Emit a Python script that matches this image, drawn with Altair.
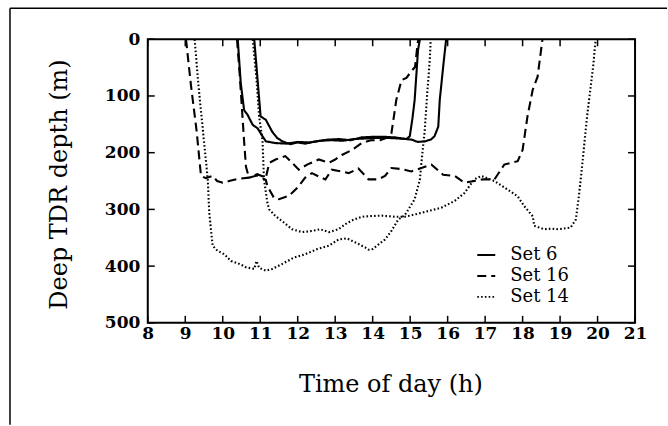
import altair as alt
import pandas as pd

# ---- data (hour of day, depth in m) ----
set6_a_hour = [10.40, 10.48, 10.57, 10.66, 10.80, 10.93, 11.06, 11.15, 11.4, 11.7, 12.0, 12.3, 12.6, 12.9,
               13.2, 13.5, 13.8, 14.1, 14.4, 14.7, 14.9, 14.99, 15.06, 15.12, 15.21, 15.26]
set6_a_depth = [0, 77, 125, 133, 151, 157, 171, 180, 183, 184, 181, 182, 179, 178,
                179, 176, 175, 174, 174, 175, 176, 171, 140, 107, 19, 0]

set6_b_hour = [10.84, 10.93, 11.01, 11.15, 11.32, 11.45, 11.59, 11.8, 12.0, 12.2, 12.5, 12.8, 13.1, 13.4,
               13.7, 14.0, 14.3, 14.6, 14.9, 15.04, 15.2, 15.39, 15.55, 15.65, 15.75, 15.79, 15.88, 15.96]
set6_b_depth = [0, 72, 136, 142, 163, 174, 180, 185, 182, 184, 180, 177, 176, 178,
                173, 172, 172, 173, 176, 177, 181, 180, 177, 171, 154, 107, 49, 0]

set16_a_hour = [9.02, 9.15, 9.3, 9.42, 9.55, 9.73, 9.85, 10.0, 10.17, 10.4, 10.7, 10.92, 11.15, 11.24,
                11.41, 11.67, 11.85, 12.03, 12.25, 12.56, 12.83, 13.0, 13.18, 13.45, 13.71, 13.95, 14.2,
                14.45, 14.5, 14.63, 14.77, 14.9, 15.05, 15.13, 15.2, 15.22]
set16_a_depth = [0, 80, 160, 241, 245, 241, 250, 253, 250, 246, 244, 238, 244, 218,
                 212, 206, 218, 230, 221, 212, 218, 212, 204, 195, 183, 178, 178,
                 172, 166, 107, 72, 68, 55, 49, 7, 0]

set16_b_hour = [10.38, 10.45, 10.52, 10.57, 10.62, 10.7, 10.92, 11.15, 11.19, 11.37, 11.5, 11.77, 11.99,
                12.2, 12.38, 12.56, 12.74, 12.91, 13.17, 13.36, 13.62, 13.89, 14.15, 14.33, 14.5, 14.77,
                15.03, 15.3, 15.57, 15.88, 16.19, 16.45, 16.71, 16.94, 17.25, 17.51, 17.87, 18.0, 18.13,
                18.27, 18.4, 18.53]
set16_b_depth = [0, 60, 130, 180, 225, 244, 240, 248, 259, 280, 282, 276, 262,
                 244, 236, 242, 247, 230, 233, 236, 228, 247, 247, 241, 227, 229,
                 233, 227, 221, 239, 241, 253, 250, 247, 247, 221, 215, 195, 136,
                 89, 66, 0]

set14_a_hour = [9.25, 9.35, 9.47, 9.6, 9.64, 9.73, 9.86, 10.04, 10.22, 10.44, 10.62, 10.84, 10.9, 10.97,
                11.15, 11.32, 11.59, 11.9, 12.2, 12.52, 12.83, 13.09, 13.31, 13.53, 13.8, 13.89, 14.0,
                14.15, 14.33, 14.5, 14.68, 14.86, 15.12, 15.26, 15.3, 15.39, 15.45, 15.52, 15.55]
set14_a_depth = [0, 80, 160, 247, 306, 364, 373, 379, 391, 396, 402, 405, 391, 403,
                 408, 405, 396, 385, 379, 370, 364, 353, 351, 358, 367, 371, 370,
                 362, 353, 338, 318, 310, 282, 247, 218, 160, 100, 40, 0]

set14_b_hour = [10.8, 10.9, 10.97, 11.06, 11.1, 11.19, 11.24, 11.41, 11.63, 11.85, 12.12, 12.38, 12.6,
                12.83, 13.09, 13.27, 13.49, 13.71, 13.89, 14.24, 14.6, 14.86, 15.12, 15.48, 15.83, 16.19,
                16.45, 16.71, 16.9, 17.25, 17.6, 17.87, 18.04, 18.27, 18.31, 18.57, 18.75, 18.97, 19.28,
                19.42, 19.5, 19.57, 19.72, 19.81, 19.88, 19.95]
set14_b_depth = [0, 70, 136, 177, 247, 288, 300, 312, 323, 335, 340, 338, 335,
                 340, 335, 326, 318, 313, 312, 311, 313, 313, 309, 303, 297, 285,
                 271, 247, 241, 250, 265, 277, 294, 312, 329, 335, 334, 335, 332,
                 318, 277, 235, 136, 87, 49, 0]

set_names = ["Set 6", "Set 16", "Set 14"]
x_tick_values = list(range(8, 22))
y_tick_values = [0, 100, 200, 300, 400, 500]

series = [
    ("Set 6", "6a", set6_a_hour, set6_a_depth),
    ("Set 6", "6b", set6_b_hour, set6_b_depth),
    ("Set 16", "16a", set16_a_hour, set16_a_depth),
    ("Set 16", "16b", set16_b_hour, set16_b_depth),
    ("Set 14", "14a", set14_a_hour, set14_a_depth),
    ("Set 14", "14b", set14_b_hour, set14_b_depth),
]
rows = []
for s, lid, hs, ds in series:
    for i, (h, d) in enumerate(zip(hs, ds)):
        rows.append({"set": s, "line": lid, "hour": h, "depth": d, "order": i})
df = pd.DataFrame(rows)

W, H = 488, 284
FONT = "DejaVu Serif"

x_scale = alt.Scale(domain=[8, 21], nice=False, zero=False)
y_scale = alt.Scale(domain=[0, 500], reverse=True, nice=False)

x_axis = alt.Axis(
    values=x_tick_values, format="d", title="Time of day (h)",
    labelFont=FONT, labelFontWeight="bold", labelFontSize=17, labelColor="black",
    labelPadding=3, labelFlush=False, labelOverlap=False,
    ticks=False, domain=False, grid=False,
    titleFont=FONT, titleFontSize=24, titleFontWeight="normal", titleColor="black",
    titleX=243, titleY=69, titleBaseline="alphabetic", titleAlign="center")
y_axis = alt.Axis(
    values=y_tick_values, format="d", title="Deep TDR depth (m)",
    labelFont=FONT, labelFontWeight="bold", labelFontSize=17, labelColor="black",
    labelPadding=8, labelOverlap=False,
    ticks=False, domain=False, grid=False,
    titleFont=FONT, titleFontSize=24, titleFontWeight="normal", titleColor="black",
    titleAngle=270, titleX=-81, titleY=145, titleBaseline="alphabetic", titleAlign="center")

lines = alt.Chart(df).mark_line(color="black", strokeWidth=2.1, strokeCap="butt", clip=True).encode(
    x=alt.X("hour:Q", scale=x_scale, axis=x_axis),
    y=alt.Y("depth:Q", scale=y_scale, axis=y_axis),
    strokeDash=alt.StrokeDash("set:N", scale=alt.Scale(domain=set_names, range=[[1, 0], [9, 5], [1.6, 2.2]]),
                              legend=alt.Legend(title=None, orient="none", legendX=329, legendY=206,
                                                symbolType="stroke", symbolSize=324, symbolStrokeWidth=2,
                                                symbolStrokeColor="black",
                                                labelFont=FONT, labelFontSize=18, labelColor="black",
                                                labelOffset=14, rowPadding=2, padding=0)),
    detail="line:N",
    order="order:Q",
)

xt = pd.DataFrame({"hour": x_tick_values})
yt = pd.DataFrame({"depth": y_tick_values})

bottom_ticks = alt.Chart(xt).mark_rule(color="black", strokeWidth=1.5).encode(
    x=alt.X("hour:Q", scale=x_scale, axis=x_axis), y=alt.value(H), y2=alt.value(H - 7))
top_ticks = alt.Chart(xt).mark_rule(color="black", strokeWidth=1.5).encode(
    x=alt.X("hour:Q", scale=x_scale, axis=x_axis), y=alt.value(0), y2=alt.value(7))
left_ticks = alt.Chart(yt).mark_rule(color="black", strokeWidth=1.5).encode(
    y=alt.Y("depth:Q", scale=y_scale, axis=y_axis), x=alt.value(0), x2=alt.value(7))
right_ticks = alt.Chart(yt).mark_rule(color="black", strokeWidth=1.5).encode(
    y=alt.Y("depth:Q", scale=y_scale, axis=y_axis), x=alt.value(W), x2=alt.value(W - 7))

one = pd.DataFrame({"k": [0]})
border_top = alt.Chart(one).mark_rule(color="black", strokeWidth=1.5).encode(
    x=alt.value(-138), x2=alt.value(520), y=alt.value(-31))
border_left = alt.Chart(one).mark_rule(color="black", strokeWidth=1.5).encode(
    x=alt.value(-138), y=alt.value(-31), y2=alt.value(386))

chart = alt.layer(
    lines, bottom_ticks, top_ticks, left_ticks, right_ticks, border_top, border_left
).properties(
    width=W, height=H,
    padding={"left": 9, "top": 7, "right": 0, "bottom": 0},
    background="white",
).configure_view(
    stroke="black", strokeWidth=2
)

chart.save("out.html", embed_options={"renderer": "svg", "actions": False})
